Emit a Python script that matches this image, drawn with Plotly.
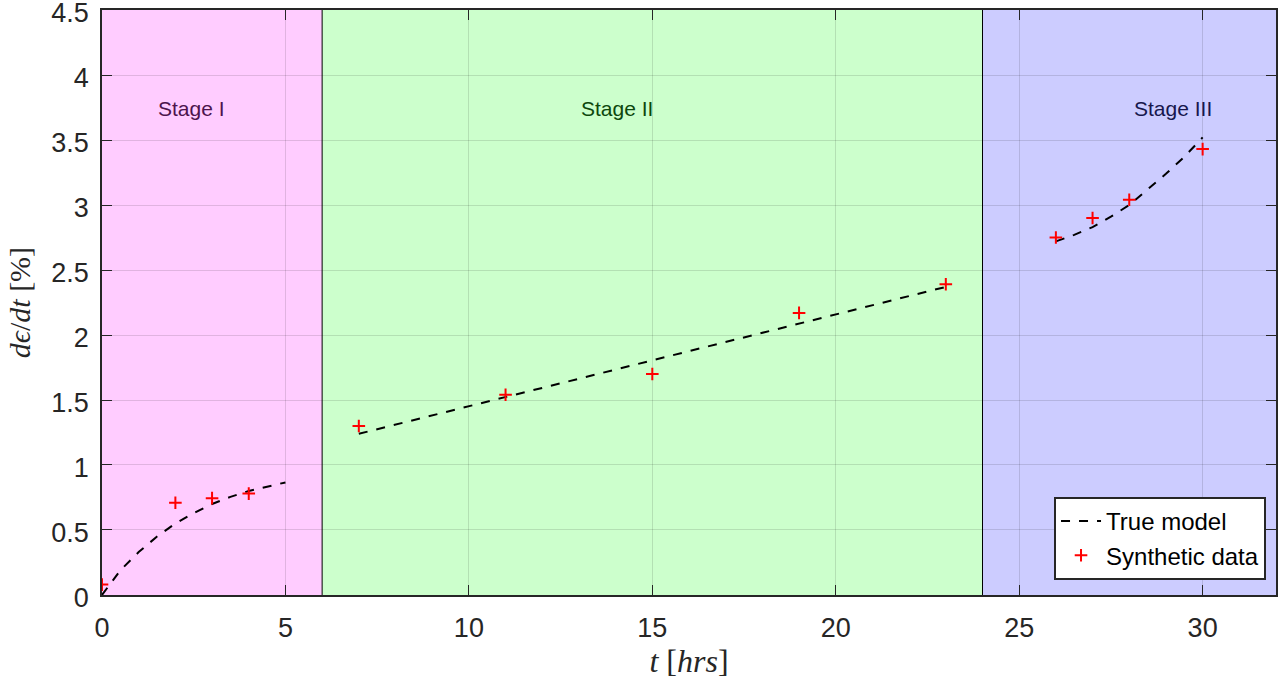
import plotly.graph_objects as go

# ---- data ----
stage1_t = [0, 0.5, 1, 1.5, 2, 2.5, 3, 3.5, 4, 4.5, 5]
stage1_model = [0, 0.19, 0.33, 0.45, 0.55, 0.63, 0.70, 0.755, 0.80, 0.835, 0.866]
stage2_t = [7, 23]
stage2_model = [1.24, 2.37]
stage3_t = [26, 26.5, 27, 27.5, 28, 28.5, 29, 29.5, 30]
stage3_model = [2.72, 2.77, 2.83, 2.91, 3.00, 3.12, 3.24, 3.37, 3.52]

data_t = [0, 2, 3, 4, 7, 11, 15, 19, 23, 26, 27, 28, 30]
data_y = [0.08, 0.71, 0.745, 0.78, 1.30, 1.54, 1.70, 2.17, 2.39, 2.75, 2.90, 3.04, 3.43]

stage_names = ["Stage I", "Stage II", "Stage III"]
stage_bounds = [(0, 6), (6, 24), (24, 32)]
stage_colors = ["#FFCCFF", "#CCFFCC", "#CCCCFF"]
stage_text_colors = ["#4D144D", "#0D470D", "#17174D"]
stage_label_x = [2.45, 14.05, 29.2]
stage_label_y = 3.74

x_ticks = [0, 5, 10, 15, 20, 25, 30]
y_ticks = [0, 0.5, 1, 1.5, 2, 2.5, 3, 3.5, 4, 4.5]
y_ticktext = ["0", "0.5", "1", "1.5", "2", "2.5", "3", "3.5", "4", "4.5"]

fig = go.Figure()

model_t = stage1_t + [None] + stage2_t + [None] + stage3_t
model_y = stage1_model + [None] + stage2_model + [None] + stage3_model
fig.add_trace(go.Scatter(x=model_t, y=model_y, mode="lines", name="True model",
                         line=dict(color="black", width=2, dash="dash"),
                         connectgaps=False))
fig.add_trace(go.Scatter(x=data_t, y=data_y, mode="markers", name="Synthetic data",
                         marker=dict(symbol="cross-thin", size=9, color="red",
                                     line=dict(color="red", width=2))))

for (a, b), c in zip(stage_bounds, stage_colors):
    fig.add_shape(type="rect", x0=a, x1=b, y0=0, y1=4.5, xref="x", yref="y",
                  fillcolor=c, line=dict(width=0), layer="below")
for xb in [6, 24]:
    fig.add_shape(type="line", x0=xb, x1=xb, y0=0, y1=4.5, xref="x", yref="y",
                  line=dict(color="black", width=1), layer="above")

for name, xl, tc in zip(stage_names, stage_label_x, stage_text_colors):
    fig.add_annotation(x=xl, y=stage_label_y, text=name, showarrow=False,
                       font=dict(family="Liberation Sans, Arial", size=21, color=tc))

fig.update_layout(
    width=1285, height=682,
    margin=dict(l=102, r=9, t=10, b=87),
    paper_bgcolor="white", plot_bgcolor="white",
    font=dict(family="Liberation Sans, Arial", color="#262626"),
    showlegend=True,
    legend=dict(x=0.9915, y=0.0256, xanchor="right", yanchor="bottom",
                bgcolor="white", bordercolor="#262626", borderwidth=2,
                font=dict(size=24, color="black"), tracegroupgap=0,
                itemwidth=40),
)
fig.update_xaxes(range=[0, 32], tickvals=x_ticks, ticks="inside", ticklen=10,
                 tickcolor="#262626", showgrid=True, gridcolor="rgba(0,0,0,0.12)",
                 showline=True, linecolor="#262626", linewidth=1.5, mirror="ticks",
                 zeroline=False, tickfont=dict(size=27, color="#262626"),
                 automargin=False, ticklabeloverflow="allow", ticklabelstandoff=8,
                 title=dict(text="<i>t</i> [<i>hrs</i>]", standoff=7,
                            font=dict(family="Liberation Serif, DejaVu Serif", size=32, color="#262626")))
fig.update_yaxes(range=[-0.0001, 4.5001], tickvals=y_ticks, ticktext=y_ticktext,
                 ticks="inside", ticklen=10,
                 tickcolor="#262626", showgrid=True, gridcolor="rgba(0,0,0,0.12)",
                 showline=True, linecolor="#262626", linewidth=1.5, mirror="ticks",
                 zeroline=False, tickfont=dict(size=27, color="#262626"),
                 automargin=False, ticklabeloverflow="allow", ticklabelstandoff=6,
                 ticklabelshift=3,
                 title=dict(text="<i>dϵ</i>/<i>dt</i> [%]", standoff=12,
                            font=dict(family="Liberation Serif, DejaVu Serif", size=30, color="#262626")))

fig.write_html("out.html", config={"displayModeBar": False},
               post_script="document.body.style.margin='0px';")
